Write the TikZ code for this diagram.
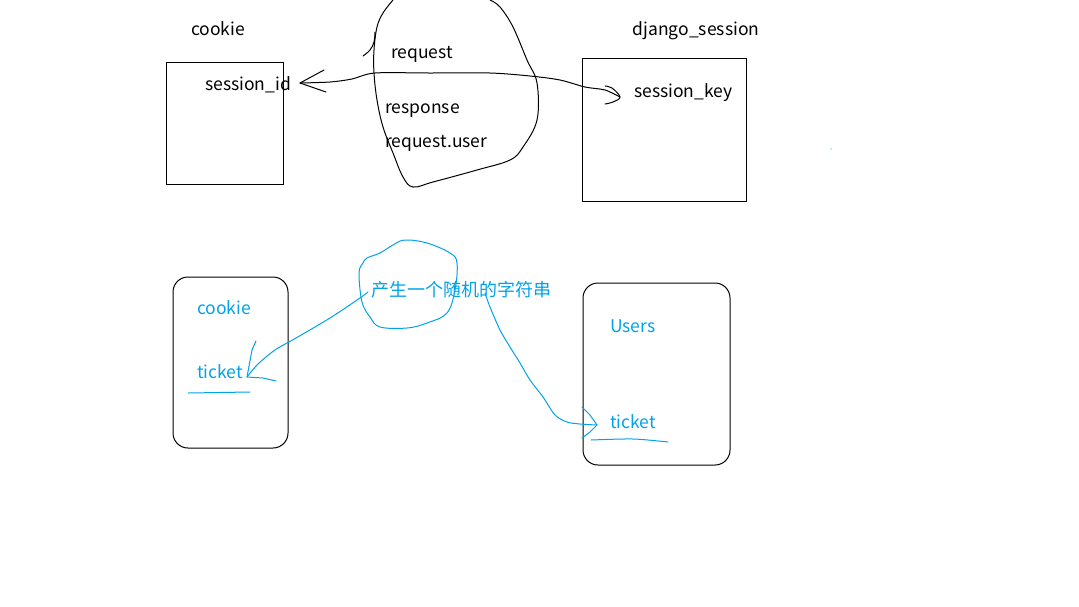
\documentclass[tikz,border=0pt]{standalone}
\usepackage{fontspec}
\setmainfont{Noto Sans CJK SC}
\definecolor{pblue}{HTML}{00A2E8}
\begin{document}
\begin{tikzpicture}[x=1pt,y=-1pt,
  lbl/.style={anchor=west,inner sep=0pt,yshift=-3pt,font=\fontsize{17.5}{20}\selectfont},
  blbl/.style={lbl,text=pblue},
  hand/.style={line width=1pt,line join=round,line cap=round},
  bhand/.style={hand,draw=pblue},
  sqbox/.style={draw,line width=1pt},
  rbox/.style={draw,line width=1pt,rounded corners=15pt}]
\useasboundingbox (0,0) rectangle (1079,606);
% ---------- top ----------
\node[lbl,anchor=center] (ck) at (218,26) {cookie};
\draw[sqbox] (166,62) rectangle (283,184);
\node[lbl] (sid) at (205,82) {session\_id};
\node[lbl,anchor=center] (ds) at (696,28) {django\_session};
\draw[sqbox] (582,58) rectangle (746,201);
\node[lbl] (skey) at (634,90) {session\_key};
\node[lbl] (req) at (391,51) {request};
\node[lbl] (resp) at (385,108) {response};
\node[lbl] (requ) at (385,140) {request.user};
% blob
\draw[hand] plot[smooth,tension=0.6] coordinates {(393,0) (383,13) (377,27) (374,50) (374,73) (377,100) (383,127) (393,153) (403,177) (413,187) (433,182) (477,170) (510,160) (523,147) (537,120) (537,83) (527,60) (513,27) (500,7) (490,0)};
\draw[hand] plot[smooth,tension=0.6] coordinates {(363,56) (370,50) (374,42) (375,32)};
% double arrow line
\coordinate (la) at (300,83);
\coordinate (ra) at (620,97);
\draw[hand] plot[smooth,tension=0.5] coordinates {(la) (330,82) (352,79) (375,73) (430,73) (490,73) (530,76) (560,80) (585,87) (605,90) (ra)};
\draw[hand] (324,70) -- (la) -- (326,92);
\draw[hand] plot[smooth,tension=0.6] coordinates {(605,86) (612,88) (620,97) (613,102) (605,104)};
\fill[pblue] (831,149) circle (0.6);
% ---------- bottom ----------
\draw[rbox] (173,277) rectangle (288,448);
\node[blbl] (bck) at (197,305) {cookie};
\node[blbl] (tk1) at (197,369) {ticket};
\draw[bhand] (188,393) -- (250,392);
\draw[rbox] (583,283) rectangle (730,465);
\node[blbl] (us) at (610,323) {Users};
\node[blbl] (tk2) at (610,419) {ticket};
\draw[bhand] plot[smooth] coordinates {(591,440) (633,439) (668,442)};
% circle around text
\draw[bhand] plot[smooth cycle,tension=0.6] coordinates {(359,273) (363,263) (367,258) (380,253) (393,245) (405,240) (427,243) (450,253) (457,263) (455,290) (447,313) (427,323) (407,328) (380,327) (370,317) (362,302)};
\node[blbl,font=\fontsize{18}{20}\selectfont] (rnd) at (371,287) {产生一个随机的字符串};
% arrow to left ticket
\coordinate (t1) at (247,377);
\draw[bhand] plot[smooth,tension=0.5] coordinates {(368,292) (360,298) (330,318) (296,338) (275,350) (258,364) (t1)};
\draw[bhand] (256,341) -- (252,350) -- (t1) -- (263,378) -- (276,381);
% arrow to right ticket
\coordinate (t2) at (597,425);
\draw[bhand] plot[smooth,tension=0.5] coordinates {(485,293) (490,307) (500,330) (510,347) (520,363) (530,380) (543,397) (555,415) (567,422) (580,424) (t2)};
\draw[bhand] (582,407) -- (590,415) -- (t2) -- (590,432) -- (582,438);
\end{tikzpicture}
\end{document}
